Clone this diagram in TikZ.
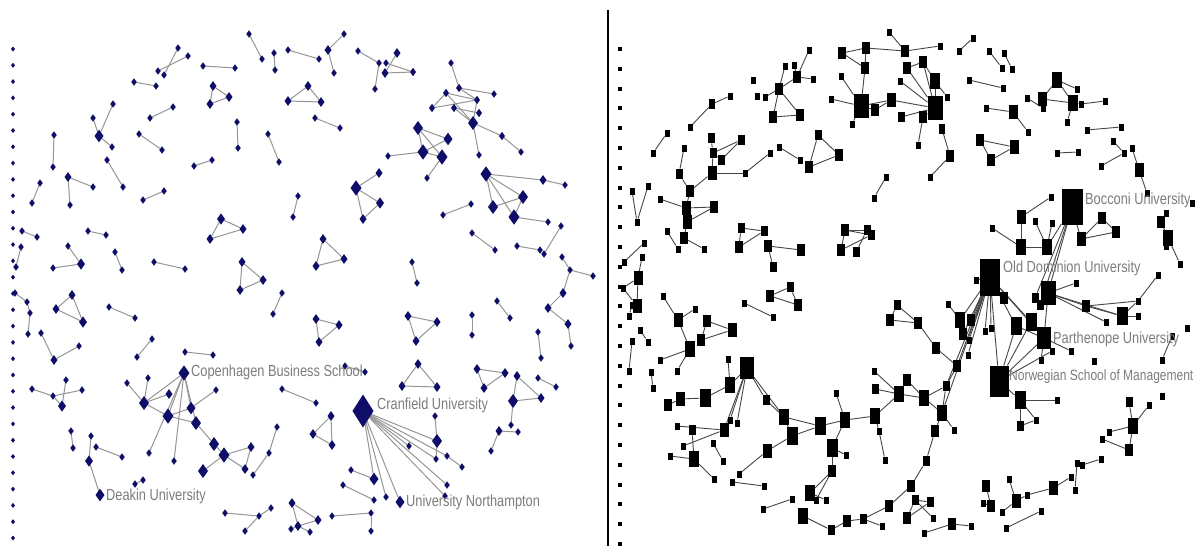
\documentclass[tikz,border=0pt]{standalone}
\usepackage{fontspec}
\newfontfamily\labfont{Liberation Sans}[FakeStretch=0.8]
\usetikzlibrary{shapes.geometric}
\pgfdeclarelayer{bg}
\pgfsetlayers{bg,main}
\definecolor{navy}{RGB}{14,14,105}
\definecolor{ledge}{RGB}{150,150,150}
\definecolor{redge}{RGB}{70,70,70}
\definecolor{labgray}{RGB}{125,125,125}
\tikzset{
  ld/.style={diamond, fill=navy, draw=none, inner sep=0pt, outer sep=0pt, minimum width=5.5pt, minimum height=7.5pt},
  rs/.style={rectangle, fill=black, draw=none, inner sep=0pt, outer sep=0pt, minimum width=5pt, minimum height=7pt},
  le/.style={draw=ledge, line width=1pt},
  re/.style={draw=redge, line width=0.9pt},
  lab/.style={text=labgray, inner sep=0pt, anchor=west, font=\labfont\fontsize{16}{18}\selectfont}
}
\begin{document}
\begin{tikzpicture}[x=1pt,y=-1pt]
\begin{pgfonlayer}{bg}
\fill[white] (0,0) rectangle (1195,546);
\end{pgfonlayer}
\useasboundingbox (0,0) rectangle (1195,546);
% divider
\draw[line width=2pt] (608,10) -- (608,546);
% isolate columns
\foreach \i in {0,...,30} \node[ld, minimum width=4pt, minimum height=5pt] (ldot\i) at (13,49+16.3*\i) {};
\foreach \i in {0,...,25} \node[rs, minimum width=4pt, minimum height=4pt] (rdot\i) at (620,49+19.8*\i) {};
% ---------------- LEFT PANEL ----------------
\foreach \x/\y in {178/48, 188/56, 158/71, 164/75, 134/82, 156/86, 173/107, 150/118, 113/104, 93/118, 112/147, 139/134, 162/150, 54/135, 53/167, 107/160, 123/187, 194/166, 212/160, 93/187, 70/205, 40/183, 32/203, 164/191, 143/200, 22/231, 37/237, 88/231, 106/235, 21/247, 16/267, 53/268, 68/246, 115/252, 122/270, 154/262, 185/269,
249/34, 262/59, 274/53, 275/70, 288/50, 319/59, 344/34, 334/73, 358/51, 379/63, 386/63, 375/89, 203/66, 235/68, 315/118, 340/128, 237/122, 238/148, 268/134, 279/162, 298/196, 293/217, 388/156,
451/63, 494/94, 521/152, 479/155, 427/178, 565/185, 548/222, 443/215, 471/204, 472/233, 495/250, 517/246, 540/250, 561/226, 544/254, 412/262, 417/283, 562/257, 570/270, 593/276, 571/346,
472/315, 472/335, 497/301, 510/318, 538/332, 541/358, 538/378, 556/387, 511/425, 518/432, 491/451, 435/416, 447/456, 462/467, 409/446, 447/485, 445/496, 436/459, 351/470, 343/485, 374/500, 386/497,
282/293, 273/314, 185/352, 213/355, 345/366, 365/372, 282/389, 316/403, 216/390, 277/427, 269/453, 253/475, 225/513, 259/516, 271/508, 245/531, 291/529, 310/532, 332/516, 371/513, 371/531,
15/293, 27/302, 30/313, 28/334, 109/307, 135/318, 41/333, 79/346, 152/339, 137/357, 32/389, 53/396, 66/380, 82/390, 148/378, 127/383, 149/453, 174/461, 71/431, 73/448, 91/436, 96/447, 122/457, 135/484, 143/480}
  \node[ld] (a\x x\y) at (\x,\y) {};
\foreach \x/\y/\s in {99/136/9, 68/177/7, 81/264/8, 328/50/7, 397/53/7, 385/73/7, 413/72/6, 213/86/7, 229/97/7, 210/104/7, 308/86/7, 288/101/7, 321/102/7, 356/188/11, 379/173/7, 380/203/8, 363/219/7, 221/219/8, 243/229/7, 210/239/7, 323/239/7, 344/259/7, 316/266/7, 242/262/7, 263/280/7, 240/290/7, 423/152/11,
459/88/6, 446/93/6, 477/100/6, 432/108/6, 454/108/6, 479/113/6, 473/123/10, 502/136/6, 418/128/10, 448/139/9, 442/157/11, 486/174/11, 543/180/7, 523/197/10, 493/207/10, 514/217/11,
563/293/7, 548/308/7, 568/324/7, 408/316/7, 437/322/7, 416/341/7, 418/364/7, 402/386/7, 437/387/7, 477/369/7, 505/373/7, 484/388/7, 517/376/7, 513/401/10, 541/398/7, 499/431/7, 437/441/10, 374/479/9, 400/502/9,
316/319/7, 339/325/7, 319/342/7, 184/373/11, 331/416/7, 313/434/7, 332/445/7, 214/444/10, 224/455/11, 251/447/7, 245/469/7, 203/471/10, 292/503/7, 318/520/7, 298/526/7,
72/295/7, 56/309/7, 83/322/8, 54/360/7, 62/406/8, 144/403/10, 169/394/7, 168/416/11, 191/408/9, 196/423/10, 89/461/8, 100/495/9}
  \node[ld, minimum width=\s pt, minimum height=1.4*\s pt] (a\x x\y) at (\x,\y) {};
\node[ld, minimum width=21pt, minimum height=33pt] (a363x411) at (363,411) {};
\begin{pgfonlayer}{bg}
\foreach \xa/\ya/\xb/\yb in {178/48/164/75, 188/56/158/71, 134/82/156/86, 173/107/150/118, 113/104/99/136, 93/118/99/136, 99/136/112/147, 139/134/162/150, 54/135/53/167, 107/160/123/187, 194/166/212/160, 68/177/93/187, 68/177/70/205, 40/183/32/203, 164/191/143/200, 22/231/37/237, 88/231/106/235, 21/247/16/267, 68/246/81/264, 53/268/81/264, 115/252/122/270, 154/262/185/269,
249/34/262/59, 274/53/275/70, 288/50/319/59, 344/34/328/50, 328/50/334/73, 358/51/379/63, 379/63/375/89, 397/53/385/73, 386/63/413/72, 385/73/413/72, 203/66/235/68, 213/86/229/97, 229/97/210/104, 210/104/213/86, 308/86/288/101, 288/101/321/102, 321/102/308/86, 315/118/340/128, 237/122/238/148, 268/134/279/162, 356/188/379/173, 356/188/380/203, 356/188/363/219, 363/219/380/203, 298/196/293/217, 221/219/243/229, 243/229/210/239, 210/239/221/219, 323/239/344/259, 344/259/316/266, 316/266/323/239, 242/262/263/280, 263/280/240/290, 240/290/242/262, 388/156/423/152,
451/63/459/88, 459/88/494/94, 446/93/477/100, 459/88/477/100, 432/108/446/93, 432/108/477/100, 454/108/479/113, 454/108/473/123, 477/100/473/123, 473/123/502/136, 502/136/521/152, 473/123/479/155, 446/93/473/123,
418/128/448/139, 418/128/442/157, 423/152/448/139, 423/152/442/157, 418/128/423/152, 442/157/427/178,
486/174/543/180, 543/180/565/185, 486/174/523/197, 486/174/493/207, 486/174/514/217, 493/207/523/197, 514/217/523/197, 514/217/548/222,
443/215/471/204, 472/233/495/250, 517/246/540/250, 561/226/544/254, 412/262/417/283, 562/257/570/270, 570/270/593/276, 570/270/563/293, 563/293/548/308, 548/308/568/324, 568/324/571/346,
408/316/437/322, 437/322/416/341, 416/341/408/316, 472/315/472/335, 497/301/510/318, 538/332/541/358, 418/364/402/386, 402/386/437/387, 437/387/418/364, 477/369/505/373, 505/373/484/388, 484/388/477/369, 517/376/513/401, 513/401/541/398, 541/398/517/376, 538/378/556/387, 511/425/513/401, 499/431/518/432, 491/451/499/431,
435/416/437/441, 363/411/437/441, 363/411/436/459, 363/411/447/456, 447/456/462/467, 363/411/409/446, 363/411/447/485, 363/411/445/496, 363/411/400/502, 363/411/374/479, 363/411/386/497, 351/470/374/479, 343/485/374/500, 437/441/436/459,
282/293/273/314, 316/319/339/325, 339/325/319/342, 319/342/316/319, 185/352/213/355, 345/366/365/372, 282/389/316/403, 216/390/191/408, 331/416/313/434, 313/434/332/445, 332/445/331/416, 277/427/269/453, 269/453/253/475, 214/444/224/455, 224/455/251/447, 251/447/245/469, 224/455/245/469, 224/455/203/471, 196/423/214/444, 225/513/259/516, 259/516/271/508, 245/531/259/516, 292/503/318/520, 292/503/298/526, 298/526/318/520, 291/529/298/526, 298/526/310/532, 332/516/371/513, 371/513/371/531,
15/293/27/302, 27/302/30/313, 30/313/28/334, 72/295/56/309, 56/309/83/322, 83/322/72/295, 109/307/135/318, 41/333/54/360, 54/360/79/346, 152/339/137/357, 32/389/53/396, 53/396/62/406, 66/380/62/406, 82/390/53/396,
184/373/168/416, 184/373/191/408, 184/373/149/453, 184/373/174/461, 184/373/196/423, 184/373/144/403, 148/378/144/403, 127/383/144/403, 144/403/169/394, 144/403/168/416, 168/416/191/408, 168/416/196/423, 71/431/73/448, 91/436/89/461, 96/447/122/457, 89/461/100/495, 135/484/143/480}
  \draw[le] (a\xa x\ya) -- (a\xb x\yb);
\end{pgfonlayer}
\node[lab] (lcbs) at (191,372) {Copenhagen Business School};
\node[lab] (lcran) at (377,405) {Cranfield University};
\node[lab] (lnorth) at (406,502) {University Northampton};
\node[lab] (ldeak) at (106,496) {Deakin University};
% ---------------- RIGHT PANEL ----------------
\foreach \x/\y in {753/80, 757/96, 765/97, 785/66, 794/65, 730/96, 690/127, 667/133, 653/153, 684/148, 745/173, 770/153, 779/147, 800/160, 660/199, 667/231, 678/249, 704/249, 632/191, 637/222, 648/186, 644/243, 624/262, 642/257,
809/50, 813/79, 940/46, 889/32, 841/76, 831/99, 852/124, 900/81, 947/97, 918/145, 930/177, 973/38, 959/51, 989/51, 1004/53, 1002/68, 1012/69, 969/80, 1003/88, 986/108, 1028/132, 886/177, 874/198, 992/228,
1077/89, 1027/98, 1043/108, 1081/104, 1105/101, 1067/122, 1087/130, 1121/127, 1057/153, 1078/152, 1113/141, 1124/153, 1101/166, 1132/148, 1147/193, 1051/197, 1035/221, 1052/223, 1166/213, 1166/246, 1180/264, 1192/203, 1158/275,
1076/283, 1138/301, 1138/316, 1106/322, 1052/351, 1071/351, 1041/360, 1094/361, 1172/336, 1187/328, 1057/400, 1036/420, 1162/396, 1149/405, 1109/432, 1102/439, 1077/463, 1082/465, 1101/459, 1075/490, 1071/477, 1027/495, 1009/479, 1002/512, 1041/511, 1006/528, 1162/360,
976/280, 948/304, 969/340, 985/331, 991/328, 968/355, 874/371, 954/430, 882/526, 879/431, 885/460, 836/393, 846/455, 816/500, 933/518, 924/533, 971/526, 983/503,
623/288, 632/305, 629/316, 640/330, 648/342, 632/341, 629/371, 651/372, 653/388, 663/296, 695/309, 660/360, 677/371, 744/303, 773/317, 728/359, 730/420, 737/423, 677/426, 683/446, 670/456, 714/479, 713/443, 723/461, 739/474, 732/482, 764/486, 763/509, 792/499, 826/500}
  \node[rs] (b\x x\y) at (\x,\y) {};
\foreach \x/\y/\s in {779/89/8, 797/77/8, 773/117/8, 800/115/8, 712/104/6, 679/174/7, 690/191/8, 712/173/9, 711/138/7, 713/153/7, 721/160/7, 741/140/7, 686/208/9, 687/222/9, 714/207/8, 684/238/8, 741/228/7, 764/231/7, 739/247/8, 768/246/8, 801/250/8, 773/267/7,
842/53/8, 866/48/8, 865/68/8, 905/51/8, 861/106/15, 875/110/8, 891/100/9, 935/108/15, 907/68/8, 923/62/8, 935/81/10, 901/117/7, 923/117/8, 942/129/6, 950/156/8, 1013/112/9, 980/140/8, 991/160/8, 1014/147/9, 818/135/7, 839/155/8, 809/167/8, 845/230/8, 867/230/7, 871/235/7, 841/250/8, 856/252/7,
1057/80/10, 1042/99/9, 1073/103/10, 1139/170/9, 1021/217/9, 1021/247/10, 1047/247/10, 1102/218/8, 1116/232/8, 1081/239/9, 1161/222/8, 1168/238/10,
1048/293/15, 1004/298/8, 1040/305/7, 1035/298/7, 1086/306/8, 1122/316/11, 1016/326/11, 1031/322/11, 1044/338/14, 1020/400/11, 1020/426/7, 1129/402/7, 1133/426/10, 1129/450/8, 1053/488/9, 1016/501/9,
897/305/7, 890/320/8, 918/323/8, 936/348/8, 957/366/8, 960/320/10, 971/320/8, 963/334/8, 899/394/10, 875/389/7, 907/380/8, 924/398/10, 946/386/7, 942/413/10, 935/431/8, 926/461/7, 911/486/8, 889/506/8, 863/519/7, 847/521/8, 831/530/7, 803/516/10, 875/416/10, 845/420/10, 820/426/11, 832/448/11, 832/471/8, 810/493/10, 915/500/7, 930/502/7, 907/518/8, 952/524/8, 986/486/8, 991/506/8,
638/278/9, 637/306/9, 678/320/9, 690/349/10, 707/321/8, 732/330/9, 701/340/8, 770/296/8, 790/287/7, 798/305/8, 730/385/10, 724/430/9, 766/400/7, 784/417/10, 792/436/11, 668/405/8, 680/399/9, 705/398/11, 692/430/7, 694/459/10, 767/451/9, 747/368/14}
  \node[rs, minimum width=\s pt, minimum height=1.55*\s pt] (b\x x\y) at (\x,\y) {};
\node[rs, minimum width=21pt, minimum height=36pt] (b1072x207) at (1072,207) {};
\node[rs, minimum width=20pt, minimum height=37pt] (b990x277) at (990,277) {};
\node[rs, minimum width=19pt, minimum height=31pt] (b999x381) at (999,381) {};
\begin{pgfonlayer}{bg}
\foreach \xa/\ya/\xb/\yb in {765/97/779/89, 779/89/785/66, 779/89/797/77, 779/89/800/115, 779/89/773/117, 773/117/800/115, 794/65/797/77,
730/96/712/104, 712/104/690/127, 667/133/653/153,
684/148/679/174, 679/174/690/191, 690/191/712/173, 711/138/713/153, 713/153/721/160, 741/140/713/153, 741/140/721/160, 712/173/713/153, 712/173/745/173, 745/173/770/153, 779/147/800/160,
660/199/686/208, 686/208/714/207, 687/222/714/207, 684/238/687/222, 686/208/687/222, 667/231/678/249, 684/238/704/249, 690/191/686/208,
632/191/637/222, 648/186/637/222, 644/243/624/262, 642/257/638/278,
741/228/764/231, 739/247/741/228, 739/247/764/231, 768/246/801/250, 773/267/768/246,
797/77/809/50, 797/77/813/79,
842/53/866/48, 842/53/865/68, 866/48/865/68, 866/48/905/51, 905/51/940/46, 889/32/905/51,
865/68/861/106, 841/76/861/106, 831/99/861/106, 852/124/861/106, 861/106/875/110, 875/110/891/100, 861/106/891/100,
935/108/907/68, 935/108/923/62, 935/108/935/81, 935/108/900/81, 935/108/891/100, 935/108/901/117, 935/108/923/117, 923/117/918/145, 907/68/923/62, 923/62/935/81, 935/81/947/97, 942/129/950/156, 950/156/930/177,
973/38/959/51, 989/51/1002/68, 1004/53/1012/69, 969/80/1003/88, 986/108/1013/112, 1013/112/1028/132, 980/140/991/160, 980/140/1014/147, 991/160/1014/147,
818/135/839/155, 839/155/809/167, 809/167/818/135, 886/177/874/198,
845/230/867/230, 845/230/841/250, 845/230/871/235, 841/250/871/235, 856/252/867/230,
992/228/1021/247,
1057/80/1077/89, 1057/80/1042/99, 1057/80/1073/103, 1027/98/1043/108, 1042/99/1073/103, 1081/104/1105/101, 1073/103/1067/122, 1042/99/1043/108, 1073/103/1081/104,
1087/130/1121/127, 1057/153/1078/152, 1113/141/1124/153, 1101/166/1124/153, 1132/148/1139/170, 1139/170/1147/193,
1051/197/1021/217, 1021/217/1021/247, 1021/247/1047/247, 1035/221/1047/247, 1052/223/1047/247, 1072/207/1047/247,
1102/218/1116/232, 1116/232/1081/239, 1081/239/1102/218, 1072/207/1081/239,
1166/213/1161/222, 1161/222/1168/238, 1168/238/1180/264, 1166/246/1168/238, 1158/275/1138/301,
1072/207/1048/293, 1072/207/1040/305, 1072/207/1035/298,
990/277/1016/326, 990/277/1031/322, 990/277/1004/298, 990/277/1044/338, 990/277/960/320, 990/277/971/320, 990/277/963/334, 990/277/969/340, 990/277/968/355, 990/277/957/366, 990/277/946/386, 990/277/942/413, 990/277/985/331, 990/277/991/328, 990/277/999/381, 990/277/976/280,
1048/293/1086/306, 1048/293/1122/316, 1086/306/1122/316, 1048/293/1106/322, 1122/316/1138/316, 1122/316/1138/301, 1086/306/1138/301, 1048/293/1044/338, 1044/338/1052/351, 1044/338/1071/351, 1041/360/1044/338, 1162/360/1172/336, 1076/283/1048/293,
999/381/1031/322, 999/381/1044/338, 999/381/1052/351, 999/381/1020/400, 999/381/1016/326, 1016/326/1044/338, 1031/322/1044/338,
1020/400/1057/400, 1020/400/1020/426, 1020/426/1036/420, 1020/400/1036/420,
1129/402/1133/426, 1149/405/1133/426, 1133/426/1109/432, 1102/439/1129/450, 1133/426/1129/450,
1082/465/1101/459, 1077/463/1075/490, 1071/477/1053/488, 1053/488/1027/495, 1027/495/1016/501, 1009/479/1016/501, 1002/512/1016/501, 1041/511/1006/528,
897/305/890/320, 890/320/918/323, 918/323/897/305, 918/323/936/348, 936/348/957/366, 948/304/960/320,
874/371/899/394, 875/389/899/394, 907/380/899/394, 899/394/924/398, 907/380/924/398, 924/398/946/386, 946/386/942/413, 924/398/942/413, 942/413/954/430, 942/413/935/431, 935/431/926/461, 926/461/911/486, 911/486/889/506, 889/506/863/519, 863/519/882/526, 847/521/863/519, 831/530/847/521, 803/516/831/530, 957/366/946/386,
875/416/899/394, 875/416/845/420, 845/420/820/426, 875/416/879/431, 879/431/885/460, 836/393/845/420,
832/448/845/420, 832/448/846/455, 832/448/832/471, 832/471/810/493, 810/493/826/500, 816/500/832/471,
915/500/930/502, 915/500/907/518, 915/500/933/518, 907/518/930/502, 924/533/952/524, 952/524/971/526, 986/486/991/506, 983/503/991/506,
638/278/637/306, 623/288/637/306, 632/305/629/316, 623/288/638/278, 640/330/648/342, 632/341/629/371, 651/372/653/388,
663/296/678/320, 678/320/695/309, 678/320/690/349, 660/360/690/349, 690/349/677/371,
707/321/732/330, 732/330/701/340, 701/340/707/321, 744/303/773/317, 770/296/790/287, 790/287/798/305, 798/305/770/296,
728/359/730/385, 747/368/730/385, 747/368/730/420, 747/368/737/423, 747/368/724/430, 747/368/766/400, 766/400/784/417, 747/368/784/417, 784/417/792/436,
668/405/680/399, 680/399/705/398, 705/398/730/385,
677/426/724/430, 692/430/694/459, 683/446/724/430, 670/456/694/459, 694/459/714/479, 713/443/723/461,
767/451/792/436, 767/451/739/474, 732/482/764/486, 763/509/792/499, 784/417/820/426, 792/436/820/426}
  \draw[re] (b\xa x\ya) -- (b\xb x\yb);
\end{pgfonlayer}
\node[lab] (rbocc) at (1085,200) {Bocconi University};
\node[lab] (rodu) at (1003,268) {Old Dominion University};
\node[lab] (rpart) at (1053,339) {Parthenope University};
\node[lab, font=\labfont\fontsize{15}{17}\selectfont] (rnsm) at (1009,377) {Norwegian School of Management};
\end{tikzpicture}
\end{document}
